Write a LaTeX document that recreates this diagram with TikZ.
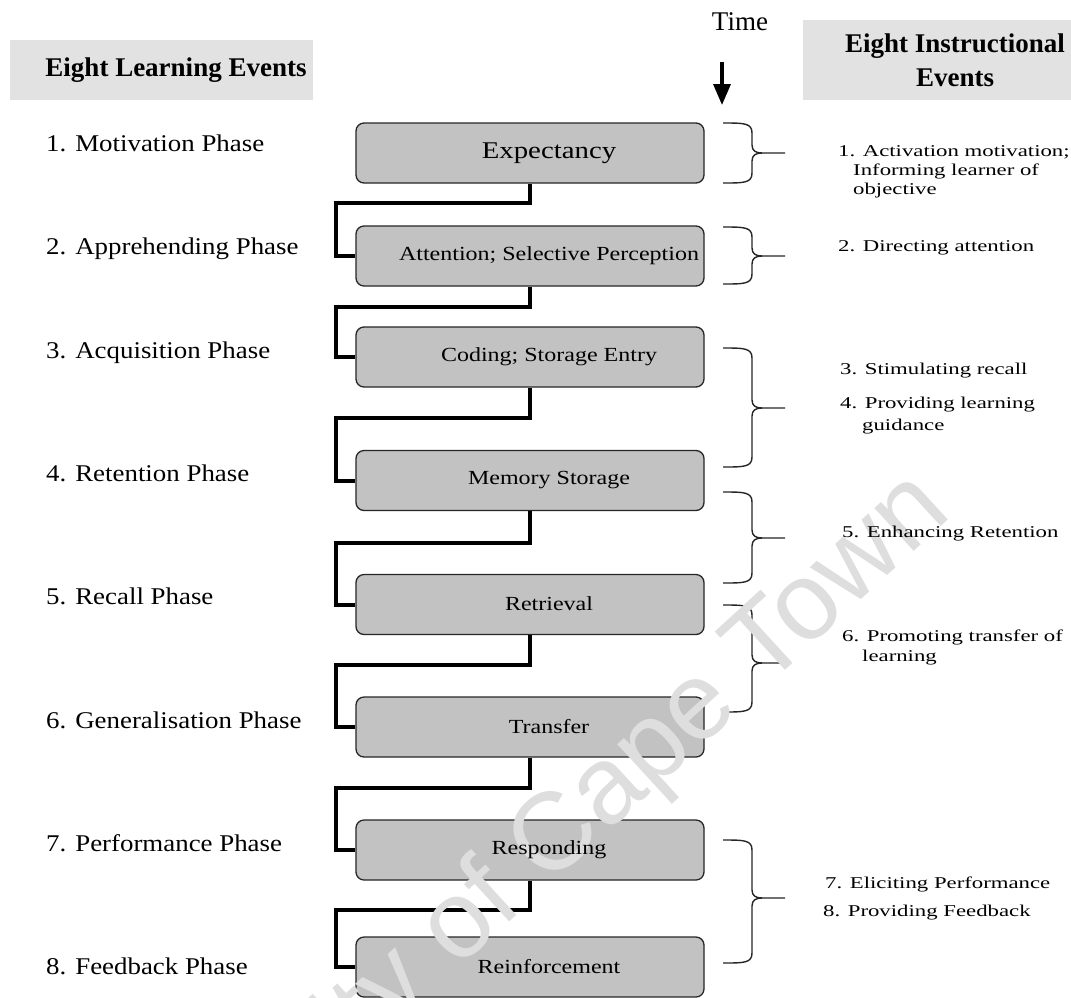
\documentclass[tikz,border=0pt]{standalone}
\usepackage{fontspec}
\setmainfont{Liberation Serif}
\newfontfamily\lblfont[FakeStretch=1.12]{Liberation Serif}
\newfontfamily\boxfont[FakeStretch=1.2]{Liberation Serif}
\newfontfamily\rfont[FakeStretch=1.38]{Liberation Serif}
\newfontfamily\wmfont{Liberation Sans}
\usetikzlibrary{arrows.meta}
\definecolor{boxgray}{RGB}{194,194,194}
\definecolor{hdrgray}{RGB}{226,226,226}
\definecolor{wmgray}{RGB}{222,222,222}
\tikzset{
  stepbox/.style={rectangle, rounded corners=8, draw=black!85, line width=1.3,
    fill=boxgray, minimum width=348, minimum height=60, inner sep=0},
  boxtxt/.style={inner sep=0, font=\boxfont\fontsize{20}{24}\selectfont},
  phase/.style={anchor=west, inner sep=0, font=\lblfont\fontsize{24}{28}\selectfont,
    text height=17, text depth=5},
  rtxt/.style={anchor=west, inner sep=0, font=\rfont\fontsize{16.5}{20}\selectfont,
    text height=12, text depth=4},
  hdrbox/.style={fill=hdrgray, draw=none, inner sep=0},
  hdrtxt/.style={inner sep=0, font=\bfseries\fontsize{27}{34}\selectfont, align=center},
  conn/.style={line width=4, black},
  bracepath/.style={line width=1.4, black!85},
}
\newcommand\rbr[3]{%
  \draw[bracepath] (723,#1) .. controls (744,#1) and (752,#1) .. (752,#1+10)
    -- (752,#3-8) .. controls (752,#3-2) and (756,#3) .. (762,#3) -- (785,#3);
  \draw[bracepath] (723,#2) .. controls (744,#2) and (752,#2) .. (752,#2-10)
    -- (752,#3+8) .. controls (752,#3+2) and (756,#3) .. (762,#3);}
\begin{document}
\begin{tikzpicture}[x=1pt,y=-1pt]
\useasboundingbox (0,0) rectangle (1071,997);
\fill[white] (0,0) rectangle (1071,997);

% headers
\node[hdrbox, minimum width=303, minimum height=60] (hl) at (161.5,70) {};
\node[hdrtxt] (hlt) at (176,70) {Eight Learning Events};
\node[hdrbox, minimum width=268, minimum height=80] (hr) at (937,60) {};
\node[hdrtxt] (hrt) at (955,60) {Eight Instructional\\Events};

% time
\node[inner sep=0, font=\fontsize{27}{32}\selectfont] (time) at (740,22) {Time};
\coordinate (ttop) at (722,62);
\coordinate (ttip) at (722,105);
\draw[line width=3.5, -{Triangle[width=17pt,length=21pt]}] (ttop) -- (ttip);

% boxes
\node[stepbox] (b1) at (530,153) {};
\node[stepbox] (b2) at (530,256) {};
\node[stepbox] (b3) at (530,357) {};
\node[stepbox] (b4) at (530,480.5) {};
\node[stepbox] (b5) at (530,604.5) {};
\node[stepbox] (b6) at (530,727) {};
\node[stepbox] (b7) at (530,850) {};
\node[stepbox] (b8) at (530,967) {};

% connectors
\coordinate (h1) at (336,203);
\coordinate (h2) at (336,307);
\coordinate (h3) at (336,418);
\coordinate (h4) at (336,543);
\coordinate (h5) at (336,665);
\coordinate (h6) at (336,788);
\coordinate (h7) at (336,910);
\draw[conn] (b1.south) |- (h1) |- (b2.west);
\draw[conn] (b2.south) |- (h2) |- (b3.west);
\draw[conn] (b3.south) |- (h3) |- (b4.west);
\draw[conn] (b4.south) |- (h4) |- (b5.west);
\draw[conn] (b5.south) |- (h5) |- (b6.west);
\draw[conn] (b6.south) |- (h6) |- (b7.west);
\draw[conn] (b7.south) |- (h7) |- (b8.west);

% braces
\rbr{123}{183}{153}
\rbr{227}{284}{256}
\rbr{348}{467}{408}
\rbr{492}{583}{538}
\rbr{605}{712}{663}
\rbr{840}{963}{898}

% watermark
\node[wmgray, inner sep=0, anchor=base west, rotate=42.5,
  font=\wmfont\fontsize{110}{120}\selectfont] (wm) at (354,1065) {ity of Cape Town};

% box texts
\node[boxtxt, font=\boxfont\fontsize{24}{28}\selectfont] (t1) at (549,153) {Expectancy};
\node[boxtxt] (t2) at (549,256) {Attention; Selective Perception};
\node[boxtxt] (t3) at (549,357) {Coding; Storage Entry};
\node[boxtxt] (t4) at (549,480) {Memory Storage};
\node[boxtxt] (t5) at (549,604) {Retrieval};
\node[boxtxt] (t6) at (549,727) {Transfer};
\node[boxtxt] (t7) at (549,850) {Responding};
\node[boxtxt] (t8) at (549,967) {Reinforcement};

% left phases
\node[phase] (p1) at (46,145) {1. Motivation Phase};
\node[phase] (p2) at (46,248) {2. Apprehending Phase};
\node[phase] (p3) at (46,352) {3. Acquisition Phase};
\node[phase] (p4) at (46,475) {4. Retention Phase};
\node[phase] (p5) at (46,598) {5. Recall Phase};
\node[phase] (p6) at (46,722) {6. Generalisation Phase};
\node[phase] (p7) at (46,845) {7. Performance Phase};
\node[phase] (p8) at (46,968) {8. Feedback Phase};

% right instructional events
\node[rtxt] (r1a) at (838,152) {1. Activation motivation;};
\node[rtxt] (r1b) at (853,171) {Informing learner of};
\node[rtxt] (r1c) at (853,190) {objective};
\node[rtxt] (r2) at (838,247) {2. Directing attention};
\node[rtxt] (r3) at (840,370) {3. Stimulating recall};
\node[rtxt] (r4a) at (840,404) {4. Providing learning};
\node[rtxt] (r4b) at (862,426) {guidance};
\node[rtxt] (r5) at (842,533) {5. Enhancing Retention};
\node[rtxt] (r6a) at (842,637) {6. Promoting transfer of};
\node[rtxt] (r6b) at (862,657) {learning};
\node[rtxt] (r7) at (825,884) {7. Eliciting Performance};
\node[rtxt] (r8) at (823,912) {8. Providing Feedback};
\end{tikzpicture}
\end{document}
